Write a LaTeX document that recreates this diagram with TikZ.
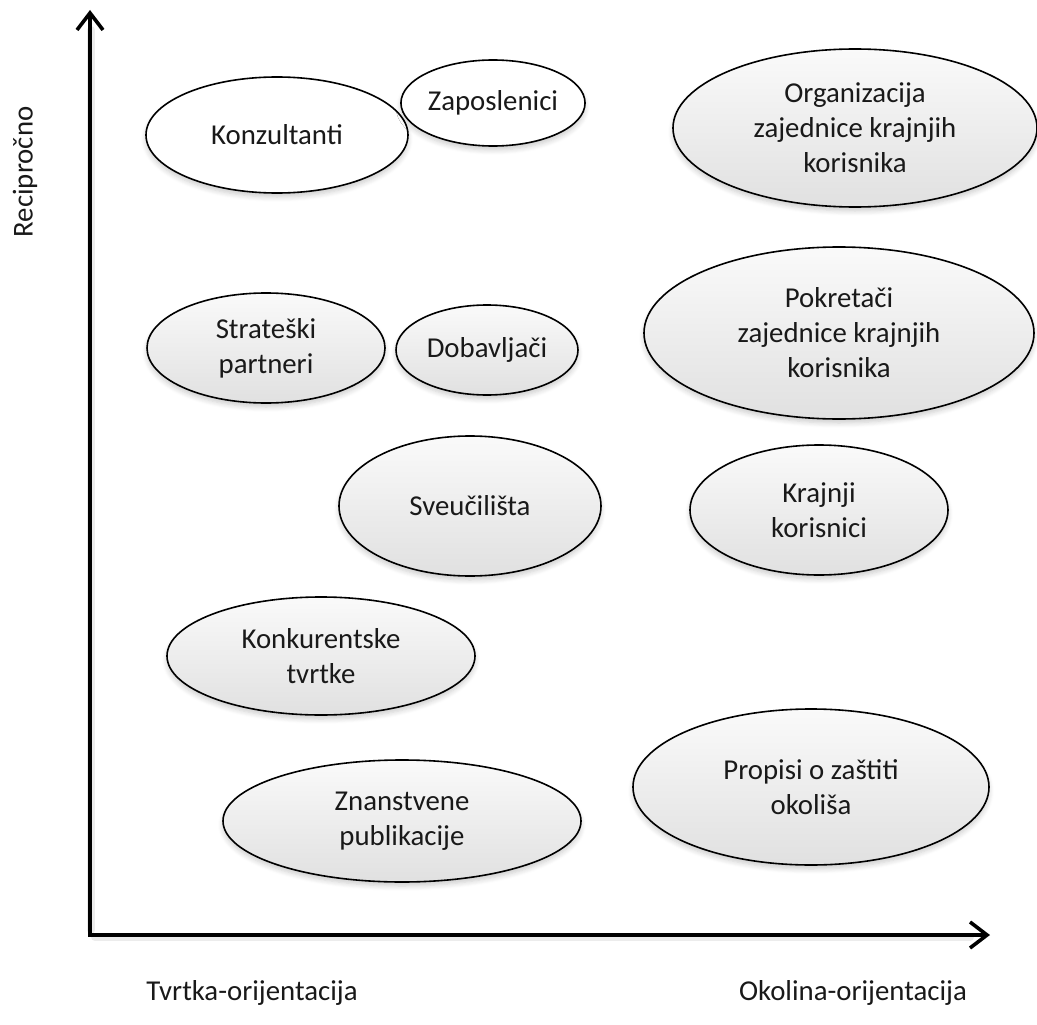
\documentclass[tikz,border=0pt]{standalone}
\usepackage{fontspec}
\setmainfont{Carlito}
\usetikzlibrary{shapes.geometric,arrows.meta,shadows.blur}
\begin{document}
\begin{tikzpicture}[x=1pt,y=-1pt,
  lbl/.style={font=\fontsize{28.8}{35}\selectfont, text=black!90, align=center},
  blob/.style={ellipse, draw=black, line width=1.6pt, inner sep=0pt,
    blur shadow={shadow xshift=0pt, shadow yshift=-4pt, shadow blur steps=6, shadow opacity=20, shadow blur radius=5pt},
    lbl},
  plain/.style={blob, fill=white},
  shaded/.style={blob, top color=gray!4, bottom color=gray!24},
  axis/.style={line width=3.6pt, -{Straight Barb[length=17pt,width=26pt]}},
  axisglow/.style={line width=8pt, gray!15, line cap=round}
]
\useasboundingbox (0,0) rectangle (1037,1025);

% axes
\coordinate (o) at (90,935);
\coordinate (ytop) at (90,10);
\coordinate (xend) at (990,935);
\draw[axisglow] (91,930) -- (91,30);
\draw[axisglow] (95,937) -- (970,937);
\draw[axis] (o) -- (ytop);
\draw[axis] ([xshift=-1.8pt]o) -- (xend);

% axis labels
\node[lbl, rotate=90] (ylab) at (25,172) {Recipročno};
\node[lbl] (xlab1) at (252,993) {Tvrtka-orijentacija};
\node[lbl] (xlab2) at (853,993) {Okolina-orijentacija};

% stakeholders
\node[plain,  minimum width=262pt, minimum height=116pt] (kon) at (277,135) {Konzultanti};
\node[plain,  minimum width=168pt, minimum height=86pt]  (zap) at (493,103) {Zaposlenici};
\node[shaded, minimum width=364pt, minimum height=158pt] (org) at (855,128) {Organizacija\\zajednice krajnjih\\korisnika};
\node[shaded, minimum width=238pt, minimum height=110pt] (str) at (266,348) {Strateški\\partneri};
\node[shaded, minimum width=182pt, minimum height=90pt]  (dob) at (487,350) {Dobavljači};
\node[shaded, minimum width=390pt, minimum height=172pt] (pok) at (839,333) {Pokretači\\zajednice krajnjih\\korisnika};
\node[shaded, minimum width=262pt, minimum height=140pt] (sve) at (470,506) {Sveučilišta};
\node[shaded, minimum width=258pt, minimum height=130pt] (kra) at (819,510) {Krajnji\\korisnici};
\node[shaded, minimum width=308pt, minimum height=118pt] (kkt) at (321,656) {Konkurentske\\tvrtke};
\node[shaded, minimum width=358pt, minimum height=122pt] (zna) at (402,821) {Znanstvene\\publikacije};
\node[shaded, minimum width=356pt, minimum height=156pt] (pro) at (811,787) {Propisi o zaštiti\\okoliša};
\end{tikzpicture}
\end{document}
